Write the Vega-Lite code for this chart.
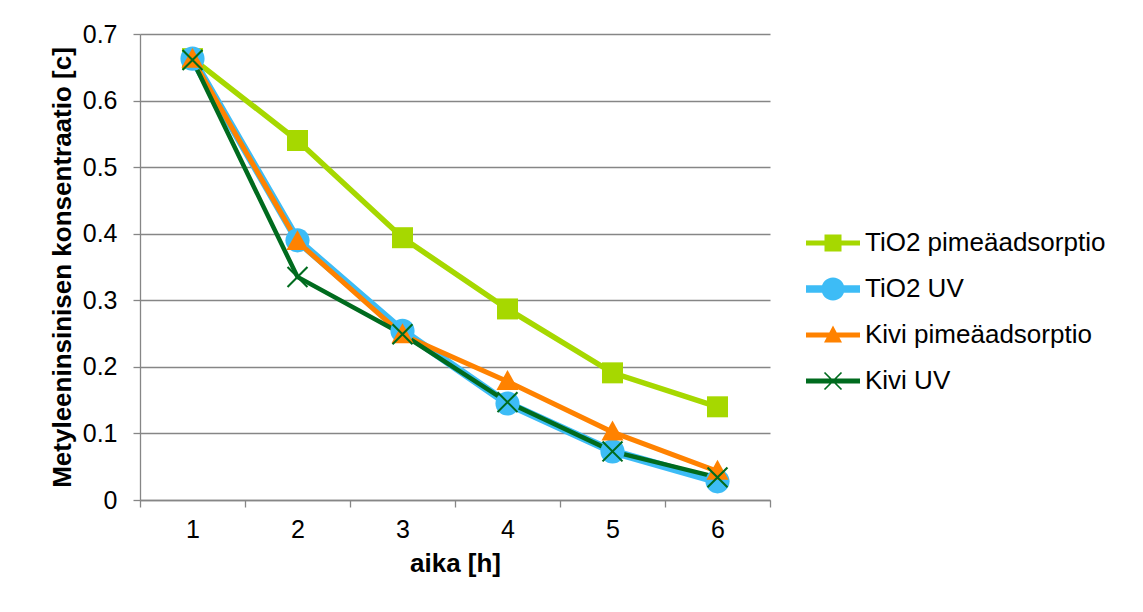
{
  "$schema": "https://vega.github.io/schema/vega-lite/v6.json",
  "width": 630,
  "height": 466,
  "autosize": {"type": "none"},
  "padding": {"left": 140, "top": 34, "right": 373, "bottom": 112},
  "background": "white",
  "config": {"view": {"stroke": null}, "font": "Liberation Sans"},
  "data": {
    "values": [
      {"aika": 1, "sarja": "TiO2 pimeäadsorptio", "c": 0.663},
      {"aika": 2, "sarja": "TiO2 pimeäadsorptio", "c": 0.540},
      {"aika": 3, "sarja": "TiO2 pimeäadsorptio", "c": 0.394},
      {"aika": 4, "sarja": "TiO2 pimeäadsorptio", "c": 0.287},
      {"aika": 5, "sarja": "TiO2 pimeäadsorptio", "c": 0.191},
      {"aika": 6, "sarja": "TiO2 pimeäadsorptio", "c": 0.140},
      {"aika": 1, "sarja": "TiO2 UV", "c": 0.663},
      {"aika": 2, "sarja": "TiO2 UV", "c": 0.390},
      {"aika": 3, "sarja": "TiO2 UV", "c": 0.254},
      {"aika": 4, "sarja": "TiO2 UV", "c": 0.145},
      {"aika": 5, "sarja": "TiO2 UV", "c": 0.073},
      {"aika": 6, "sarja": "TiO2 UV", "c": 0.028},
      {"aika": 1, "sarja": "Kivi pimeäadsorptio", "c": 0.662},
      {"aika": 2, "sarja": "Kivi pimeäadsorptio", "c": 0.388},
      {"aika": 3, "sarja": "Kivi pimeäadsorptio", "c": 0.248},
      {"aika": 4, "sarja": "Kivi pimeäadsorptio", "c": 0.178},
      {"aika": 5, "sarja": "Kivi pimeäadsorptio", "c": 0.102},
      {"aika": 6, "sarja": "Kivi pimeäadsorptio", "c": 0.043},
      {"aika": 1, "sarja": "Kivi UV", "c": 0.661},
      {"aika": 2, "sarja": "Kivi UV", "c": 0.335},
      {"aika": 3, "sarja": "Kivi UV", "c": 0.249},
      {"aika": 4, "sarja": "Kivi UV", "c": 0.147},
      {"aika": 5, "sarja": "Kivi UV", "c": 0.073},
      {"aika": 6, "sarja": "Kivi UV", "c": 0.034}
    ]
  },
  "encoding": {
    "x": {
      "field": "aika",
      "type": "ordinal",
      "scale": {"type": "band", "paddingInner": 0, "paddingOuter": 0},
      "axis": {
        "title": "aika [h]",
        "labelAngle": 0,
        "tickBand": "extent",
        "grid": false,
        "labelFontSize": 25,
        "labelColor": "black",
        "labelPadding": 10,
        "tickSize": 7,
        "tickColor": "#868686",
        "domainColor": "#868686",
        "tickWidth": 1.3,
        "domainWidth": 1.3,
        "titleFontSize": 26,
        "titleFontWeight": "bold",
        "titleColor": "black",
        "titlePadding": 8
      }
    },
    "y": {
      "field": "c",
      "type": "quantitative",
      "scale": {"domain": [0, 0.7], "nice": false},
      "axis": {
        "title": "Metyleeninsinisen konsentraatio [c]",
        "values": [0, 0.1, 0.2, 0.3, 0.4, 0.5, 0.6, 0.7],
        "format": "~g",
        "grid": true,
        "gridColor": "#868686",
        "gridWidth": 1.3,
        "labelFontSize": 25,
        "labelColor": "black",
        "labelPadding": 16,
        "tickSize": 7,
        "tickColor": "#868686",
        "domainColor": "#868686",
        "tickWidth": 1.3,
        "domainWidth": 1.3,
        "titleFontSize": 26,
        "titleFontWeight": "bold",
        "titleColor": "black",
        "titlePadding": 7
      }
    }
  },
  "layer": [
    {
      "mark": {"type": "line"},
      "encoding": {
        "color": {
          "field": "sarja", "type": "nominal",
          "scale": {"domain": ["TiO2 pimeäadsorptio", "TiO2 UV", "Kivi pimeäadsorptio", "Kivi UV"], "range": ["#A6D800", "#3DBCF6", "#FF8200", "#006B1E"]},
          "legend": null
        },
        "strokeWidth": {
          "field": "sarja", "type": "nominal",
          "scale": {"type": "ordinal", "domain": ["TiO2 pimeäadsorptio", "TiO2 UV", "Kivi pimeäadsorptio", "Kivi UV"], "range": [5.5, 8, 5, 4.5]},
          "legend": null
        }
      }
    },
    {
      "mark": {"type": "point", "filled": true, "opacity": 1, "size": 441},
      "encoding": {
        "color": {"field": "sarja", "type": "nominal", "legend": null},
        "shape": {
          "field": "sarja", "type": "nominal",
          "scale": {
            "domain": ["TiO2 pimeäadsorptio", "TiO2 UV", "Kivi pimeäadsorptio", "Kivi UV"],
            "range": [
              "M-1,-1H1V1H-1Z",
              "M-1.15,0A1.15,1.15 0 1,1 1.15,0A1.15,1.15 0 1,1 -1.15,0Z",
              "M0,-1.1L1.05,0.8H-1.05Z",
              "M-0.88,-1.02L1.02,0.88L0.88,1.02L-1.02,-0.88Z M1.02,-0.88L-0.88,1.02L-1.02,0.88L0.88,-1.02Z"
            ]
          },
          "legend": null
        }
      }
    },
    {
      "mark": {"type": "point", "filled": true, "opacity": 0, "size": 400},
      "encoding": {
        "color": {"field": "sarja", "type": "nominal", "legend": null},
        "shape": {
          "field": "sarja", "type": "nominal",
          "scale": {
            "domain": ["TiO2 pimeäadsorptio", "TiO2 UV", "Kivi pimeäadsorptio", "Kivi UV"],
            "range": [
              "M-2.7,-0.25H2.7V0.25H-2.7Z M-0.85,-0.85H0.85V0.85H-0.85Z",
              "M-2.7,-0.38H2.7V0.38H-2.7Z M-1.15,0A1.15,1.15 0 1,1 1.15,0A1.15,1.15 0 1,1 -1.15,0Z",
              "M-2.7,-0.25H2.7V0.25H-2.7Z M0,-0.95L0.9,0.75H-0.9Z",
              "M-2.7,-0.25H2.7V0.25H-2.7Z M-0.79,-0.91L0.91,0.79L0.79,0.91L-0.91,-0.79Z M0.91,-0.79L-0.79,0.91L-0.91,0.79L0.79,-0.91Z"
            ]
          },
          "legend": {
            "title": null, "orient": "none", "legendX": 680, "legendY": 196, "padding": 0,
            "labelFontSize": 26, "labelColor": "black", "symbolSize": 400, "labelOffset": 19,
            "rowPadding": 20, "symbolOpacity": 1, "symbolStrokeWidth": 0, "labelLimit": 400,
            "symbolFillColor": {"expr": "scale('color', datum.value)"}
          }
        }
      }
    }
  ],
  "resolve": {"scale": {"shape": "independent"}}
}
